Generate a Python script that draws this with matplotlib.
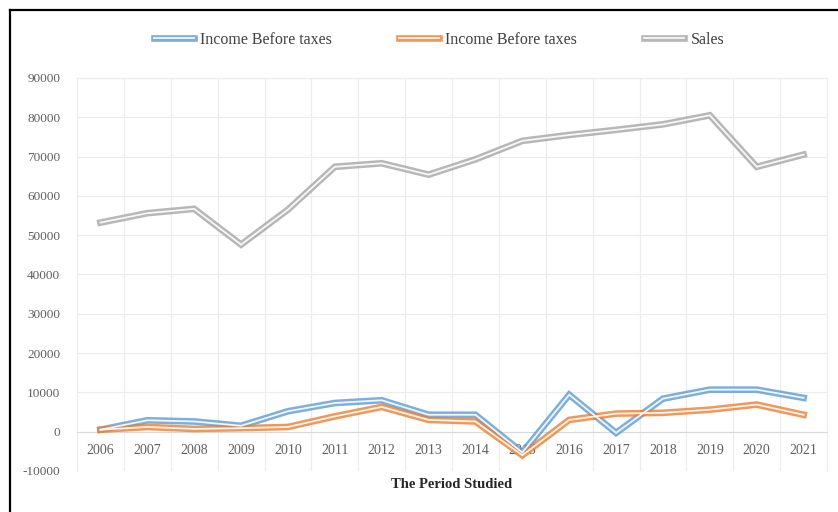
import matplotlib.pyplot as plt
import numpy as np
from matplotlib.lines import Line2D

years = ['2006', '2007', '2008', '2009', '2010', '2011', '2012', '2013',
         '2014', '2015', '2016', '2017', '2018', '2019', '2020', '2021']
income_blue = [500, 2900, 2600, 1500, 5200, 7300, 8000, 4300,
               4300, -5300, 9400, -300, 8400, 10700, 10700, 8600]
income_orange = [500, 1200, 700, 900, 1200, 3900, 6300, 3000,
                 2600, -6000, 3000, 4600, 4800, 5600, 6900, 4300]
sales = [53200, 55600, 56700, 47600, 56500, 67400, 68300, 65400,
         69300, 74000, 75500, 76800, 78200, 80500, 67400, 70500]

series = [
    ('Income Before taxes', income_blue, '#5B9BD5'),
    ('Income Before taxes', income_orange, '#ED7D31'),
    ('Sales', sales, '#A5A5A5'),
]

plt.rcParams['font.family'] = ['Liberation Serif', 'DejaVu Serif']
plt.rcParams['axes.unicode_minus'] = False

fig = plt.figure(figsize=(8.38, 5.12), dpi=100)
# left, bottom, width, height
ax = fig.add_axes([0.0919, 0.0801, 0.895, 0.7676])

x = np.arange(len(years))
handles = []
labels = []
for name, vals, col in series:
    # excel style double line: thick colour with a thin white core
    ax.plot(x, vals, color=col, lw=4.8, alpha=0.8, solid_joinstyle='miter', zorder=3)
    ax.plot(x, vals, color='white', lw=1.3, alpha=0.9, solid_joinstyle='miter', zorder=4)
    handles.append((Line2D([], [], color=col, lw=4.8, alpha=0.8),
                    Line2D([], [], color='white', lw=1.3, alpha=0.9)))
    labels.append(name)

ax.set_xlim(-0.5, len(years) - 0.5)
ax.set_ylim(-10000, 90000)
ax.set_yticks(np.arange(-10000, 90001, 10000))
ax.set_xticks(x)
ax.set_xticklabels(years)
ax.set_xticks(x[:-1] + 0.5, minor=True)

ax.grid(axis='y', which='major', color='#ececec', lw=0.8)
ax.grid(axis='x', which='minor', color='#ececec', lw=0.8)
ax.set_axisbelow(True)

for s in ['top', 'right', 'left']:
    ax.spines[s].set_color('#ececec')
ax.spines['bottom'].set_position(('data', 0))
ax.spines['bottom'].set_color('#d9d9d9')

ax.tick_params(axis='x', which='both', length=0, pad=9, labelsize=10, labelcolor='#5f5f5f')
ax.tick_params(axis='y', length=0, pad=12, labelsize=9.5, labelcolor='#5f5f5f')

fig.text(0.5394, 0.053, 'The Period Studied', ha='center', va='center',
         fontsize=10.5, fontweight='bold', color='#262626')

fig.legend(handles, labels, loc='center', bbox_to_anchor=(0.524, 0.922), ncol=3,
           frameon=False, fontsize=11.5, handlelength=2.5, handletextpad=0.4,
           columnspacing=4.2, labelcolor='#404040')

# outer frame visible on the left and top of the picture
fig.add_artist(Line2D([10 / 838, 10 / 838], [0, 1 - 10 / 512], color='black', lw=1.6,
                      transform=fig.transFigure))
fig.add_artist(Line2D([10 / 838, 1], [1 - 10 / 512, 1 - 10 / 512], color='black', lw=1.6,
                      transform=fig.transFigure))

fig.savefig('out.png', dpi=100)
